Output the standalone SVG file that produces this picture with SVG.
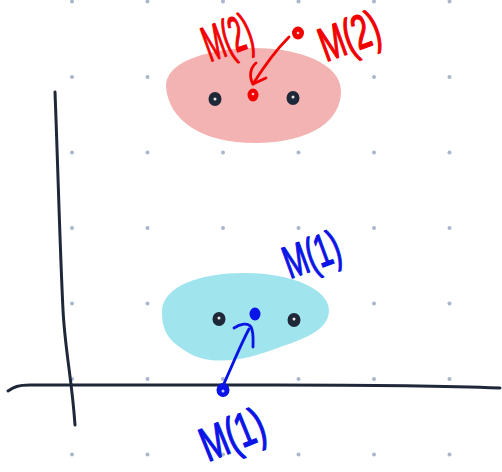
<svg xmlns="http://www.w3.org/2000/svg" width="502" height="472" viewBox="0 0 502 472">
<defs>
<style>
.grid circle{fill:#a9b7cc}
.pt{fill:#1e2838}
.hl{fill:#e8e8e8}
.axis{fill:none;stroke:#1e2838;stroke-width:3;stroke-linecap:round}
.red{fill:none;stroke:#f20000;stroke-width:2.8;stroke-linecap:round;stroke-linejoin:round}
.blue{fill:none;stroke:#0a14e6;stroke-width:2.8;stroke-linecap:round;stroke-linejoin:round}
.lbl{font-family:"Liberation Sans",Arial,sans-serif;font-size:40px;stroke-width:1.2;stroke-linejoin:round}
.lr{fill:#f20000;stroke:#f20000}
.lb{fill:#0a14e6;stroke:#0a14e6}
</style>
</defs>
<rect width="502" height="472" fill="#ffffff"/>
<g class="grid">
<circle cx="72" cy="1.5" r="2"/><circle cx="147.5" cy="1.5" r="2"/><circle cx="223" cy="1.5" r="2"/><circle cx="298.5" cy="1.5" r="2"/><circle cx="374" cy="1.5" r="2"/><circle cx="449.5" cy="1.5" r="2"/>
<circle cx="72" cy="77" r="2"/><circle cx="147.5" cy="77" r="2"/><circle cx="223" cy="77" r="2"/><circle cx="298.5" cy="77" r="2"/><circle cx="374" cy="77" r="2"/><circle cx="449.5" cy="77" r="2"/>
<circle cx="72" cy="152.5" r="2"/><circle cx="147.5" cy="152.5" r="2"/><circle cx="223" cy="152.5" r="2"/><circle cx="298.5" cy="152.5" r="2"/><circle cx="374" cy="152.5" r="2"/><circle cx="449.5" cy="152.5" r="2"/>
<circle cx="72" cy="228" r="2"/><circle cx="147.5" cy="228" r="2"/><circle cx="223" cy="228" r="2"/><circle cx="298.5" cy="228" r="2"/><circle cx="374" cy="228" r="2"/><circle cx="449.5" cy="228" r="2"/>
<circle cx="72" cy="303.5" r="2"/><circle cx="147.5" cy="303.5" r="2"/><circle cx="223" cy="303.5" r="2"/><circle cx="298.5" cy="303.5" r="2"/><circle cx="374" cy="303.5" r="2"/><circle cx="449.5" cy="303.5" r="2"/>
<circle cx="72" cy="379" r="2"/><circle cx="147.5" cy="379" r="2"/><circle cx="223" cy="379" r="2"/><circle cx="298.5" cy="379" r="2"/><circle cx="374" cy="379" r="2"/><circle cx="449.5" cy="379" r="2"/>
<circle cx="72" cy="454.5" r="2"/><circle cx="147.5" cy="454.5" r="2"/><circle cx="223" cy="454.5" r="2"/><circle cx="298.5" cy="454.5" r="2"/><circle cx="374" cy="454.5" r="2"/><circle cx="449.5" cy="454.5" r="2"/>
</g>
<g id="cluster-red">
<path d="M 166,86 C 166,64 200,50 250,48 C 300,47 340,64 341,90 C 342,120 312,142 258,143 C 205,144 168,122 166,86 Z" fill="#f4b3b3"/>
</g>
<g id="cluster-blue">
<path d="M 162,312 C 162,286 200,273 245,273 C 293,273 329,290 329,310 C 329,332 300,340 272,350 C 240,362 205,366 184,350 C 168,340 162,330 162,312 Z" fill="#a0e5ee"/>
</g>
<g id="axes">
<path class="axis" d="M 55,92 C 58,170 60,250 63,310 C 65,350 72,380 75,425"/>
<path class="axis" d="M 8,391 C 14,387 18,385 30,385 L 200,385 C 300,385 400,384 500,388"/>
</g>
<g id="points-top">
<ellipse class="pt" cx="215" cy="99" rx="6.5" ry="7"/><circle class="hl" cx="215" cy="99" r="1.5"/>
<ellipse class="pt" cx="293" cy="98" rx="6.5" ry="7"/><circle class="hl" cx="293" cy="97" r="1.5"/>
</g>
<g id="points-bottom">
<ellipse class="pt" cx="219" cy="319" rx="6.5" ry="7"/><circle class="hl" cx="219" cy="318" r="1.5"/>
<ellipse class="pt" cx="294" cy="320" rx="6.5" ry="7"/><circle class="hl" cx="294" cy="319" r="1.5"/>
</g>
<g id="mean-red-old">
<ellipse cx="298" cy="33" rx="6" ry="6.5" fill="#f20000"/><circle cx="298" cy="33" r="1.3" fill="#ffd0d0"/>
</g>
<g id="mean-red-new">
<ellipse cx="253" cy="95" rx="5.5" ry="6.5" fill="#f20000"/><circle cx="253" cy="94" r="1.3" fill="#ffd0d0"/>
</g>
<g id="mean-blue-old">
<ellipse cx="223" cy="390" rx="6.5" ry="7" fill="#0a14e6"/><circle cx="223" cy="391" r="1.5" fill="#c0c8ff"/>
</g>
<g id="mean-blue-new">
<ellipse cx="255" cy="314" rx="5.5" ry="6.5" fill="#0a14e6"/>
</g>
<g id="connectors">
<path class="red" d="M 289,37 C 276,50 263,68 253,84"/>
<path class="red" d="M 256,63 C 250,68 249,77 253,84 L 266,78"/>
<path class="blue" d="M 222,388 C 232,366 240,346 249,329"/>
<path class="blue" d="M 234,328 C 240,324 248,322 251,327 C 254,333 253,340 253,347"/>
</g>
<g id="labels">
<text class="lbl lr" transform="translate(210,62) rotate(-20) scale(0.6,1.25)">M(2)</text>
<text class="lbl lr" transform="translate(326,62) rotate(-20) scale(0.75,1.2)">M(2)</text>
<text class="lbl lb" transform="translate(290,279) rotate(-20) scale(0.7,1.15)">M(1)</text>
<text class="lbl lb" transform="translate(208,462) rotate(-22) scale(0.8,1.2)">M(1)</text>
</g>
</svg>
